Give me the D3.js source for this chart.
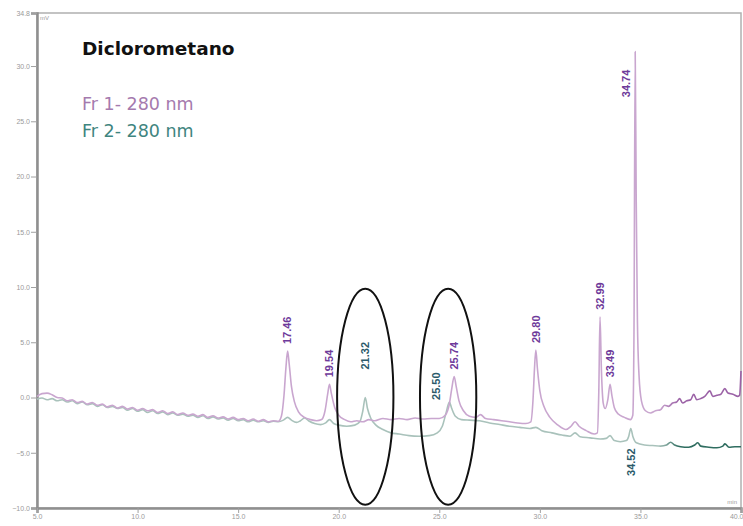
<!DOCTYPE html>
<html>
<head>
<meta charset="utf-8">
<script src="https://cdn.jsdelivr.net/npm/d3@7/dist/d3.min.js"></script>
<style>
  html, body { margin: 0; padding: 0; background: #ffffff; }
  svg { display: block; }
</style>
</head>
<body>
<svg id="chart" width="743" height="526"></svg>
<script>
// Retention time (min) and detector signal (mV) for each fraction
const fr1Time = [
  5.00,5.25,5.50,5.75,6.00,6.25,6.50,6.75,7.00,7.25,7.50,7.75,8.00,8.25,8.50,8.75,
  9.00,9.25,9.50,9.75,10.00,10.25,10.50,10.75,11.00,11.25,11.50,11.75,12.00,12.25,
  12.50,12.75,13.00,13.25,13.50,13.75,14.00,14.25,14.50,14.75,15.00,15.25,15.50,
  15.75,16.00,16.25,16.50,16.75,17.00,17.15,17.28,17.38,17.46,17.54,17.65,17.80,
  18.00,18.30,18.60,18.90,19.15,19.32,19.45,19.54,19.63,19.80,20.00,20.30,20.60,
  20.90,21.20,21.50,21.80,22.20,22.60,23.00,23.40,23.80,24.20,24.60,25.00,25.30,
  25.50,25.62,25.74,25.84,25.98,26.20,26.50,26.80,27.05,27.30,27.70,28.10,28.50,
  28.90,29.30,29.55,29.66,29.73,29.80,29.88,30.00,30.20,30.50,30.90,31.30,31.55,
  31.75,31.95,32.30,32.70,32.86,32.93,32.99,33.06,33.15,33.25,33.38,33.49,33.58,
  33.70,33.90,34.20,34.50,34.62,34.68,34.74,34.79,34.85,34.93,35.05,35.25,35.50,
  35.75,36.00,36.20,36.40,36.60,36.80,36.95,37.10,37.30,37.50,37.65,37.80,38.00,
  38.20,38.45,38.60,38.80,39.00,39.20,39.35,39.60,39.85,39.93,40.00
];
const fr1Signal = [
  0.10,0.35,0.40,0.25,0.00,-0.05,-0.30,-0.20,-0.45,-0.35,-0.60,-0.45,-0.70,-0.60,-0.85,-0.70,
  -0.95,-0.80,-1.05,-0.90,-1.15,-1.00,-1.20,-1.10,-1.35,-1.20,-1.45,-1.30,-1.55,-1.40,
  -1.60,-1.50,-1.70,-1.55,-1.80,-1.65,-1.85,-1.75,-1.95,-1.80,-2.00,-1.90,-2.10,
  -1.95,-2.15,-2.00,-2.20,-2.10,-2.15,-1.70,0.20,2.80,4.20,3.00,1.00,-0.40,
  -1.30,-1.80,-2.00,-2.10,-2.00,-1.20,0.30,1.20,0.40,-0.90,-1.60,-2.00,-2.20,
  -2.10,-2.20,-2.00,-2.10,-1.90,-2.00,-1.90,-2.00,-1.85,-1.95,-1.90,-1.90,-1.60,
  -0.60,0.80,1.90,1.00,-0.30,-1.20,-1.70,-1.80,-1.55,-1.90,-2.00,-2.10,-2.20,
  -2.30,-2.35,-2.20,-0.20,2.50,4.30,2.60,0.60,-0.80,-1.80,-2.50,-2.90,-2.60,
  -2.20,-2.60,-3.00,-3.30,-3.20,0.50,7.30,2.50,-0.50,-1.00,-0.20,1.20,0.20,
  -0.90,-1.50,-1.80,-2.00,-1.60,6.00,31.30,18.00,7.00,2.00,-0.30,-1.20,-1.40,
  -1.20,-1.10,-0.70,-0.80,-0.50,-0.40,-0.10,-0.50,-0.30,-0.20,0.30,-0.20,-0.10,
  0.10,0.60,0.10,0.20,0.30,0.80,0.40,0.30,0.10,0.20,2.40
];

const fr2Time = [
  5.00,5.25,5.50,5.75,6.00,6.25,6.50,6.75,7.00,7.25,7.50,7.75,8.00,8.25,8.50,8.75,
  9.00,9.25,9.50,9.75,10.00,10.25,10.50,10.75,11.00,11.25,11.50,11.75,12.00,12.25,
  12.50,12.75,13.00,13.25,13.50,13.75,14.00,14.25,14.50,14.75,15.00,15.25,15.50,
  15.75,16.00,16.25,16.50,16.75,17.00,17.25,17.46,17.65,17.90,18.10,18.30,18.50,
  18.80,19.10,19.35,19.54,19.75,20.00,20.40,20.80,21.05,21.20,21.32,21.43,21.60,
  21.85,22.20,22.60,23.00,23.50,24.00,24.50,24.90,25.15,25.35,25.50,25.62,25.80,
  26.10,26.50,27.00,27.50,28.00,28.50,29.00,29.50,29.80,30.10,30.60,31.10,31.50,
  31.75,32.00,32.50,33.00,33.30,33.49,33.70,34.00,34.30,34.42,34.52,34.62,34.80,
  35.20,35.60,36.00,36.30,36.50,36.70,37.00,37.40,37.70,37.85,38.00,38.40,38.80,
  39.10,39.20,39.40,39.70,40.00
];
const fr2Signal = [
  -0.15,-0.05,-0.20,-0.10,-0.30,-0.20,-0.40,-0.30,-0.55,-0.40,-0.65,-0.55,-0.80,-0.65,-0.90,-0.80,
  -1.00,-0.90,-1.15,-1.00,-1.25,-1.10,-1.35,-1.20,-1.45,-1.30,-1.55,-1.40,-1.60,-1.50,
  -1.70,-1.60,-1.80,-1.65,-1.90,-1.75,-1.95,-1.85,-2.05,-1.90,-2.10,-2.00,-2.20,
  -2.05,-2.20,-2.10,-2.25,-2.15,-2.20,-2.05,-1.80,-2.05,-2.25,-2.10,-1.85,-2.10,
  -2.35,-2.45,-2.30,-2.00,-2.35,-2.50,-2.60,-2.50,-2.20,-1.20,0.00,-1.00,-1.90,
  -2.50,-2.90,-3.20,-3.30,-3.45,-3.50,-3.45,-3.20,-2.60,-1.30,-0.40,-1.00,-1.70,
  -2.00,-2.05,-2.10,-2.30,-2.45,-2.60,-2.70,-2.80,-2.70,-3.00,-3.20,-3.40,-3.50,
  -3.20,-3.55,-3.65,-3.75,-3.70,-3.45,-3.90,-4.00,-3.90,-3.50,-2.80,-3.50,-4.10,
  -4.30,-4.35,-4.40,-4.30,-4.05,-4.30,-4.45,-4.50,-4.30,-4.10,-4.40,-4.50,-4.55,
  -4.40,-4.20,-4.50,-4.45,-4.45
];

// Integrated peaks: retention time, trace, and where the label sits
const peakTimes  = [17.46, 19.54, 21.32, 25.50, 25.74, 29.80, 32.99, 33.49, 34.74, 34.52];
const peakTrace  = ["fr1", "fr1", "fr2", "fr2", "fr1", "fr1", "fr1", "fr1", "fr1", "fr2"];
const peakPlace  = ["top", "top", "high", "left", "top", "top", "top", "top", "inside", "below"];

// Axis ticks
const xTicks = [5, 10, 15, 20, 25, 30, 35, 40];
const yTicks = [-10, -5, 0, 5, 10, 15, 20, 25, 30, 34.8];

// Circled regions of interest (retention time at the centre)
const circledTimes = [21.32, 25.44];

const titleText = "Diclorometano";
const legendLabels = ["Fr 1- 280 nm", "Fr 2- 280 nm"];

// ---------------------------------------------------------------
const svg = d3.select("#chart");
const W = 743, H = 526;
const margin = { left: 37, right: 2, top: 13, bottom: 18 };

const x = d3.scaleLinear().domain([5, 40]).range([margin.left, W - margin.right]);
const y = d3.scaleLinear().domain([-10, 34.8]).range([H - margin.bottom, margin.top]);

const colours = {
  fr1: { light: "#c9a6cf", dark: "#9b62a6", text: "#a57aae", label: "#6e3a9a" },
  fr2: { light: "#a9c2bb", dark: "#2f6d60", text: "#3f8580", label: "#2b5a6a" }
};

// Frame
svg.append("rect")
  .attr("x", x(5)).attr("y", y(34.8))
  .attr("width", x(40) - x(5)).attr("height", y(-10) - y(34.8))
  .attr("fill", "none").attr("stroke", "#b0b0b0").attr("stroke-width", 1.5);

// Axes
const yAxis = d3.axisLeft(y).tickValues(yTicks).tickFormat(d3.format(".1f")).tickSize(6).tickPadding(1);
const xAxis = d3.axisBottom(x).tickValues(xTicks).tickFormat(d3.format(".1f")).tickSize(5).tickPadding(1);

const gy = svg.append("g").attr("transform", `translate(${x(5)},0)`).call(yAxis);
const gx = svg.append("g").attr("transform", `translate(0,${y(-10)})`).call(xAxis);

[gy, gx].forEach(g => {
  g.select(".domain").attr("stroke", "#8f8f8f").attr("stroke-width", 2.5);
  g.selectAll(".tick line").attr("stroke", "#a0a0a0").attr("stroke-width", 1);
  g.selectAll(".tick text")
    .attr("fill", "#9a9a9a")
    .style("font-family", "'Liberation Sans', Arial, sans-serif")
    .style("font-size", "7px");
});
// the last time label sits against the right edge
gx.selectAll(".tick text").filter(d => d === 40).attr("text-anchor", "end").attr("dx", "2");

// Unit captions
svg.append("text").attr("x", x(5) + 3).attr("y", y(34.8) + 7)
  .text("mV").attr("fill", "#9a9a9a")
  .style("font-family", "'Liberation Sans', Arial, sans-serif").style("font-size", "6px");
svg.append("text").attr("x", x(40) - 4).attr("y", y(-10) - 4)
  .attr("text-anchor", "end")
  .text("min").attr("fill", "#9a9a9a")
  .style("font-family", "'Liberation Sans', Arial, sans-serif").style("font-size", "6px");

// Trace gradients: the tail of each run is drawn in a deeper tone
const defs = svg.append("defs");
["fr1", "fr2"].forEach(k => {
  const g = defs.append("linearGradient")
    .attr("id", "grad-" + k)
    .attr("gradientUnits", "userSpaceOnUse")
    .attr("x1", x(5)).attr("x2", x(40)).attr("y1", 0).attr("y2", 0);
  const split = (x(35.9) - x(5)) / (x(40) - x(5));
  g.append("stop").attr("offset", 0).attr("stop-color", colours[k].light);
  g.append("stop").attr("offset", split).attr("stop-color", colours[k].light);
  g.append("stop").attr("offset", split + 0.03).attr("stop-color", colours[k].dark);
  g.append("stop").attr("offset", 1).attr("stop-color", colours[k].dark);
});

const traces = {
  fr1: fr1Time.map((t, i) => [t, fr1Signal[i]]),
  fr2: fr2Time.map((t, i) => [t, fr2Signal[i]])
};

const line = d3.line()
  .x(d => x(d[0]))
  .y(d => y(d[1]))
  .curve(d3.curveMonotoneX);

["fr2", "fr1"].forEach(k => {
  svg.append("path")
    .datum(traces[k])
    .attr("d", line)
    .attr("fill", "none")
    .attr("stroke", `url(#grad-${k})`)
    .attr("stroke-width", 1.6)
    .attr("stroke-linejoin", "round");
});

// Peak labels (retention times, written vertically)
const peakFont = "'Liberation Sans', Arial, sans-serif";
peakTimes.forEach((t, i) => {
  const k = peakTrace[i];
  const times = k === "fr1" ? fr1Time : fr2Time;
  const sig = k === "fr1" ? fr1Signal : fr2Signal;
  const apex = sig[times.indexOf(t)];
  const px = x(t), py = y(apex);
  let lx = px, ly = py, anchor = "start";
  switch (peakPlace[i]) {
    case "top":    ly = py - 7; break;
    case "high":   ly = py - 28; break;
    case "left":   lx = px - 13; ly = py - 2; break;
    case "inside": lx = px - 9; ly = py + 18; anchor = "end"; break;
    case "below":  ly = py + 20; anchor = "end"; break;
  }
  svg.append("text")
    .attr("transform", `translate(${lx},${ly}) rotate(-90)`)
    .attr("dy", "0.35em")
    .attr("text-anchor", anchor)
    .attr("fill", colours[k].label)
    .style("font-family", peakFont)
    .style("font-weight", "bold")
    .style("font-size", "11px")
    .text(t.toFixed(2));
});

// Ellipses around the regions of interest
const ellHalfWidth = 1.4;              // minutes
const ellTop = 9.85, ellBottom = -9.7; // mV
circledTimes.forEach(t => {
  svg.append("ellipse")
    .attr("cx", x(t))
    .attr("cy", (y(ellTop) + y(ellBottom)) / 2)
    .attr("rx", x(t + ellHalfWidth) - x(t))
    .attr("ry", (y(ellBottom) - y(ellTop)) / 2)
    .attr("fill", "none")
    .attr("stroke", "#111")
    .attr("stroke-width", 2);
});

// Title and legend
svg.append("text")
  .attr("x", 82).attr("y", 55)
  .text(titleText)
  .attr("fill", "#111")
  .style("font-family", "'DejaVu Sans', sans-serif")
  .style("font-weight", "bold")
  .style("font-size", "18.5px");

legendLabels.forEach((lab, i) => {
  svg.append("text")
    .attr("x", 82).attr("y", 110 + i * 27)
    .text(lab)
    .attr("fill", i === 0 ? colours.fr1.text : colours.fr2.text)
    .style("font-family", "'DejaVu Sans', sans-serif")
    .style("font-size", "17.5px");
});
</script>
</body>
</html>
